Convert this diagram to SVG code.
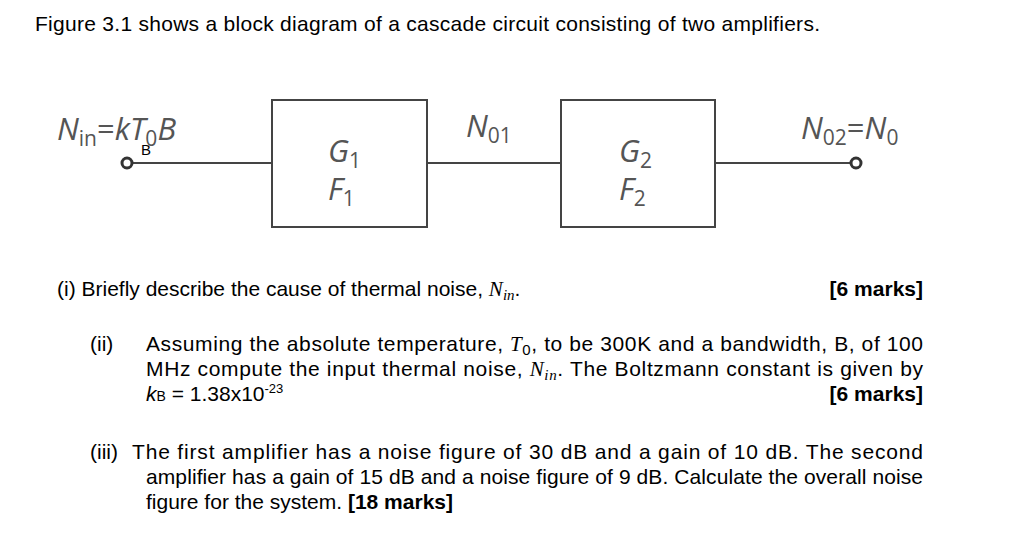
<svg xmlns="http://www.w3.org/2000/svg" width="1024" height="537" viewBox="0 0 1024 537">
<style>
.t{font-family:"Liberation Sans",Arial,sans-serif;font-size:21px;fill:#000}
.d{font-family:"Open Sans","DejaVu Sans",sans-serif;font-size:31px;fill:#555;font-style:italic}
.s{font-size:21px;font-style:normal}
.b{font-weight:bold}
.m{font-family:"Liberation Serif",serif;font-style:italic}
.box{fill:#fff;stroke:#444;stroke-width:2}
.w{stroke:#444;stroke-width:2;fill:none}
</style>
<rect width="1024" height="537" fill="#fff"/>
<text class="t" x="35" y="31" textLength="785">Figure 3.1 shows a block diagram of a cascade circuit consisting of two amplifiers.</text>
<g id="connectors">
<line class="w" x1="132" y1="163" x2="272" y2="163"/>
<line class="w" x1="427" y1="163" x2="561" y2="163"/>
<line class="w" x1="715" y1="163" x2="851" y2="163"/>
</g>
<g id="in"><circle cx="127" cy="163" r="5" fill="#fff" stroke="#333" stroke-width="3"/>
<text class="d" x="57" y="140">N<tspan class="s" dy="6">in</tspan><tspan dy="-6" style="font-style:normal">=</tspan>kT<tspan class="s" dy="6">0</tspan><tspan dy="-6">B</tspan></text>
<text x="141" y="155" style="font-family:'Liberation Sans',sans-serif;font-size:15px">B</text></g>
<g id="amp1"><rect class="box" x="272" y="100" width="155" height="127"/>
<text class="d" x="328" y="162">G<tspan class="s" dy="6">1</tspan></text>
<text class="d" x="328" y="200">F<tspan class="s" dy="6">1</tspan></text></g>
<g id="n01"><text class="d" x="466" y="137">N<tspan class="s" dy="6">01</tspan></text></g>
<g id="amp2"><rect class="box" x="561" y="100" width="154" height="127"/>
<text class="d" x="619" y="162">G<tspan class="s" dy="6">2</tspan></text>
<text class="d" x="619" y="200">F<tspan class="s" dy="6">2</tspan></text></g>
<g id="out"><circle cx="856" cy="163" r="5" fill="#fff" stroke="#333" stroke-width="3"/>
<text class="d" x="801" y="139">N<tspan class="s" dy="6">02</tspan><tspan dy="-6" style="font-style:normal">=</tspan>N<tspan class="s" dy="6">0</tspan></text></g>
<text class="t" x="57" y="296">(i) Briefly describe the cause of thermal noise, <tspan class="m">N<tspan font-size="15" dy="4">in</tspan></tspan><tspan dy="-4">.</tspan></text>
<text class="t b" x="923" y="296" text-anchor="end">[6 marks]</text>
<text class="t" x="90" y="351">(ii)</text>
<text class="t" x="146" y="351" textLength="777">Assuming the absolute temperature, <tspan class="m">T</tspan><tspan font-size="15" dy="4">0</tspan><tspan dy="-4">, to be 300K and a bandwidth, B, of 100</tspan></text>
<text class="t" x="146" y="376" textLength="777">MHz compute the input thermal noise, <tspan class="m">N<tspan font-size="15" dy="4">in</tspan></tspan><tspan dy="-4">. The Boltzmann constant is given by</tspan></text>
<text class="t" x="146" y="401"><tspan font-style="italic">k</tspan><tspan font-size="14">B</tspan> = 1.38x10<tspan font-size="13" dy="-8">-23</tspan></text>
<text class="t b" x="923" y="401" text-anchor="end">[6 marks]</text>
<text class="t" x="90" y="459">(iii)</text>
<text class="t" x="132" y="459" textLength="791">The first amplifier has a noise figure of 30 dB and a gain of 10 dB. The second</text>
<text class="t" x="146" y="484" textLength="777">amplifier has a gain of 15 dB and a noise figure of 9 dB. Calculate the overall noise</text>
<text class="t" x="146" y="509">figure for the system.  <tspan class="b">[18 marks]</tspan></text>
</svg>
